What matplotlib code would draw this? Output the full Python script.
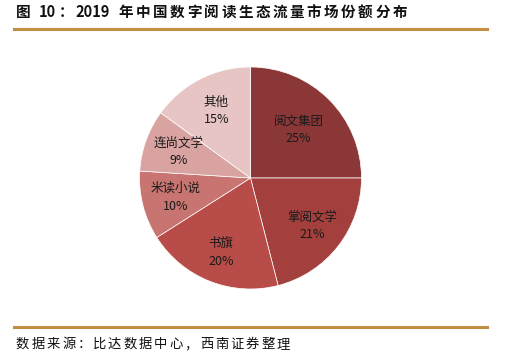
import matplotlib
matplotlib.use("Agg")
import matplotlib.pyplot as plt
import numpy as np
import re

plt.rcParams['font.family'] = ['Noto Sans CJK SC', 'DejaVu Sans']

categories = ['阅文集团', '掌阅文学', '书旗', '米读小说', '连尚文学', '其他']
shares = [25, 21, 20, 10, 9, 15]
colors = ['#8C3737', '#A3403E', '#B84C49', '#C87471', '#D9A3A1', '#E8C5C5']
title = '图 10：2019 年中国数字阅读生态流量市场份额分布'
source = '数据来源：比达数据中心，西南证券整理'

# label radial placement (fraction of radius), layout only
label_r = [0.61, 0.70, 0.72, 0.70, 0.69, 0.68]

W, H = 508, 355
fig = plt.figure(figsize=(W / 100, H / 100), dpi=100)

cx, cy, r = 250.5, 178, 111
ax = fig.add_axes([(cx - r) / W, (H - cy - r) / H, 2 * r / W, 2 * r / H])
wedges, texts = ax.pie(shares, colors=colors, startangle=90, counterclock=False,
                       wedgeprops=dict(edgecolor='white', linewidth=0.5),
                       labels=[f'{c}\n{v}%' for c, v in zip(categories, shares)],
                       labeldistance=0.65,
                       textprops=dict(fontsize=9, color='#1a1a1a', ha='center',
                                      va='center', linespacing=1.45))
for w, t, lr in zip(wedges, texts, label_r):
    ang = np.deg2rad((w.theta1 + w.theta2) / 2)
    t.set_position((lr * np.cos(ang), lr * np.sin(ang)))
    t.set_ha('center')
    t.set_va('center')
ax.set_aspect('equal')
ax.set_xlim(-1.0, 1.0)
ax.set_ylim(-1.0, 1.0)
ax.axis('off')

gold = '#C28E42'
fig.add_artist(plt.Line2D([14 / W, 487 / W], [1 - 28.5 / H, 1 - 28.5 / H], color=gold, lw=2.2))
fig.add_artist(plt.Line2D([14 / W, 487 / W], [1 - 327 / H, 1 - 327 / H], color=gold, lw=2.2))

renderer = fig.canvas.get_renderer()


def spaced_text(s, x0, x1, yc, **kw):
    """Draw s with extra spacing between CJK glyphs so it spans x0..x1 (pixels)."""
    tokens = re.findall(r'[A-Za-z0-9%.]+| |.', s)
    widths = []
    for tok in tokens:
        if tok == ' ':
            t = fig.text(0, 0, 'a a', **kw)
            w3 = t.get_window_extent(renderer).width
            t.remove()
            t = fig.text(0, 0, 'aa', **kw)
            w2 = t.get_window_extent(renderer).width
            t.remove()
            widths.append(w3 - w2)
            continue
        t = fig.text(0, 0, tok, **kw)
        widths.append(t.get_window_extent(renderer).width)
        t.remove()
    gap = (x1 - x0 - sum(widths)) / (len(tokens) - 1)
    x = x0
    for tok, w in zip(tokens, widths):
        if tok != ' ':
            fig.text(x / W, 1 - yc / H, tok, ha='left', va='center', **kw)
        x += w + gap


spaced_text(title, 16, 407, 12, fontsize=10.5, fontweight='bold', color='#111111')
spaced_text(source, 16, 290, 344, fontsize=9.6, color='#111111')

fig.savefig('out.png', dpi=100)
